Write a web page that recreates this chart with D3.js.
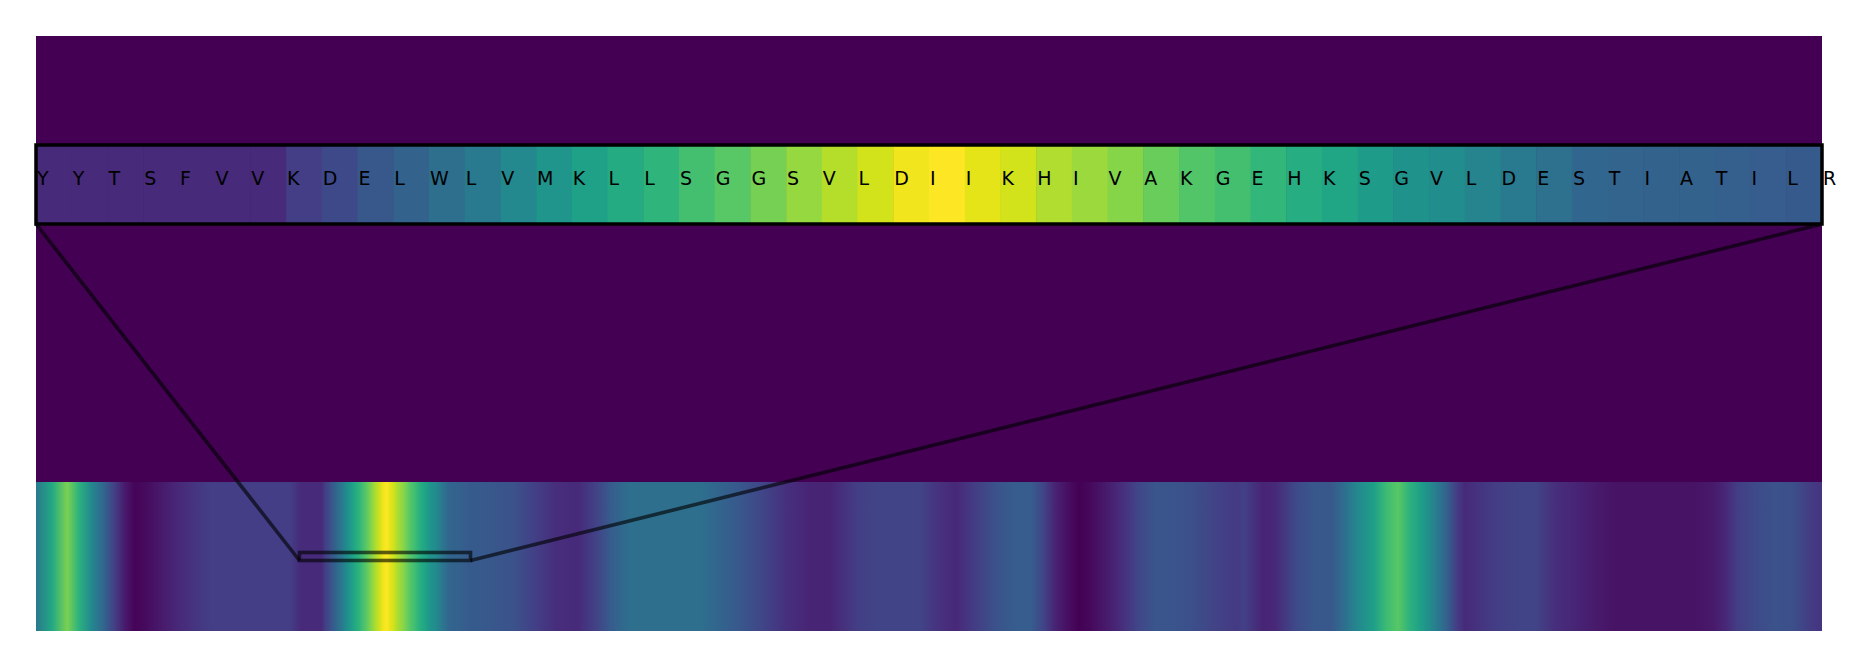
<!DOCTYPE html>
<html>
<head>
<meta charset="utf-8">
<script src="https://cdn.jsdelivr.net/npm/d3@7/dist/d3.min.js"></script>
<style>
  html, body { margin: 0; padding: 0; background: #ffffff; }
  svg { display: block; }
</style>
</head>
<body>
<svg id="chart" width="1871" height="667"></svg>
<script>
// ---------------- DATA ----------------
// residues shown in the zoomed window (51 letters, 50 coloured cells)
const windowLetters = "YYTSFVVKDELWLVMKLLSGGSVLDIIKHIVAKGEHKSGVLDESTIATILR".split("");
const windowValues = [
  0.12, 0.12, 0.12, 0.12, 0.12, 0.12, 0.12, 0.18, 0.22, 0.27,
  0.31, 0.36, 0.41, 0.47, 0.52, 0.57, 0.61, 0.65, 0.70, 0.74,
  0.79, 0.84, 0.89, 0.93, 0.98, 1.00, 0.96, 0.93, 0.88, 0.85,
  0.82, 0.77, 0.73, 0.70, 0.66, 0.62, 0.59, 0.55, 0.51, 0.49,
  0.45, 0.41, 0.37, 0.33, 0.32, 0.31, 0.31, 0.30, 0.29, 0.28
];
const sequenceLength = 522;
const windowStart = 77;

// overview profile outside the window: residue position / value
const overviewPos = [
  0, 4.7, 9.1, 12.6, 16.1, 19.6, 23.1, 26.0, 28.9, 32.1,
  36.8, 41.5, 46.2, 50.9, 74.2,
  129.8, 139.7, 145.6, 152.0, 158.4, 164.0, 168.6, 173.6, 194.1, 198.4,
  205.5, 212.2, 219.2, 226.2, 232.1, 240.0, 245.8, 258.4, 263.0, 268.9,
  274.7, 280.6, 286.1, 290.8, 294.3, 297.8, 301.3, 304.8, 308.1, 312.7,
  317.4, 322.1, 326.8, 332.6, 338.2, 344.0, 351.0, 353.1, 358.6, 362.1,
  368.0, 373.8, 378.5, 382.0, 386.4, 391.1, 394.6, 398.1, 401.6, 405.1,
  408.6, 411.8, 415.3, 417.6, 427.0, 433.7, 438.4, 444.2, 450.1, 455.9,
  461.5, 484.9, 490.4, 493.9, 497.4, 502.1, 508.0, 513.5, 519.3, 522
];
const overviewVal = [
  0.40, 0.60, 0.80, 0.64, 0.47, 0.33, 0.18, 0.07, 0.01, 0.03,
  0.07, 0.11, 0.15, 0.18, 0.18,
  0.28, 0.25, 0.19, 0.13, 0.12, 0.20, 0.30, 0.36, 0.36, 0.33,
  0.27, 0.21, 0.14, 0.10, 0.10, 0.18, 0.20, 0.20, 0.15, 0.11,
  0.18, 0.25, 0.29, 0.29, 0.21, 0.10, 0.04, 0.00, 0.02, 0.07,
  0.13, 0.21, 0.26, 0.26, 0.24, 0.20, 0.17, 0.19, 0.10, 0.11,
  0.22, 0.27, 0.27, 0.35, 0.47, 0.56, 0.68, 0.74, 0.64, 0.55,
  0.44, 0.33, 0.18, 0.12, 0.18, 0.20, 0.20, 0.13, 0.10, 0.07,
  0.05, 0.05, 0.07, 0.11, 0.18, 0.22, 0.25, 0.24, 0.17, 0.15
];

// ---------------- LAYOUT ----------------
const svg = d3.select("#chart");
const L = 36, R = 1822, T = 36, B = 631;
const zoomTop = 145, zoomBottom = 224;
const ovTop = 482, ovBottom = 631;
const insetTop = 552.5, insetBottom = 560.5;

const color = d3.scaleSequential(d3.interpolateViridis).domain([0, 1]);
const xZoom = d3.scaleLinear().domain([0, windowValues.length]).range([L, R]);
const xOv = d3.scaleLinear().domain([0, sequenceLength]).range([L, R]);

// background (value 0 of the colormap)
svg.append("rect")
  .attr("x", L).attr("y", T)
  .attr("width", R - L).attr("height", B - T)
  .attr("fill", color(0));

// overview strip as gradient
const stops = [];
overviewPos.forEach((p, i) => stops.push({ p: p, v: overviewVal[i] }));
windowValues.forEach((v, i) => stops.push({ p: windowStart + i + 0.5, v: v }));
stops.sort((a, b) => a.p - b.p);

const defs = svg.append("defs");
const grad = defs.append("linearGradient")
  .attr("id", "ovGrad")
  .attr("gradientUnits", "userSpaceOnUse")
  .attr("x1", xOv(0)).attr("x2", xOv(sequenceLength))
  .attr("y1", 0).attr("y2", 0);
grad.selectAll("stop").data(stops).enter().append("stop")
  .attr("offset", d => (xOv(d.p) - xOv(0)) / (xOv(sequenceLength) - xOv(0)))
  .attr("stop-color", d => color(d.v));

svg.append("rect")
  .attr("x", xOv(0)).attr("y", ovTop)
  .attr("width", xOv(sequenceLength) - xOv(0)).attr("height", ovBottom - ovTop)
  .attr("fill", "url(#ovGrad)");

// zoomed strip cells
svg.append("g").selectAll("rect").data(windowValues).enter().append("rect")
  .attr("x", (d, i) => xZoom(i))
  .attr("y", zoomTop)
  .attr("width", (d, i) => xZoom(i + 1) - xZoom(i) + 0.5)
  .attr("height", zoomBottom - zoomTop)
  .attr("fill", d => color(d));

// letters
svg.append("g").selectAll("text").data(windowLetters).enter().append("text")
  .attr("x", (d, i) => xZoom(i) + 1)
  .attr("y", 185)
  .attr("font-family", "DejaVu Sans, sans-serif")
  .attr("font-size", 19)
  .attr("fill", "#000")
  .text(d => d);

// connector lines and inset rectangle
const x0 = xOv(windowStart), x1 = xOv(windowStart + windowValues.length);
const conn = svg.append("g")
  .attr("stroke", "#000").attr("stroke-opacity", 0.62)
  .attr("stroke-width", 3.6).attr("fill", "none");
conn.append("line")
  .attr("x1", L).attr("y1", zoomBottom)
  .attr("x2", x0).attr("y2", insetBottom);
conn.append("line")
  .attr("x1", R).attr("y1", zoomBottom)
  .attr("x2", x1).attr("y2", insetBottom);
conn.append("rect")
  .attr("x", x0).attr("y", insetTop)
  .attr("width", x1 - x0).attr("height", insetBottom - insetTop);

// frame of zoomed strip
svg.append("rect")
  .attr("x", L).attr("y", zoomTop)
  .attr("width", R - L).attr("height", zoomBottom - zoomTop)
  .attr("fill", "none").attr("stroke", "#000").attr("stroke-width", 3.5);
</script>
</body>
</html>
